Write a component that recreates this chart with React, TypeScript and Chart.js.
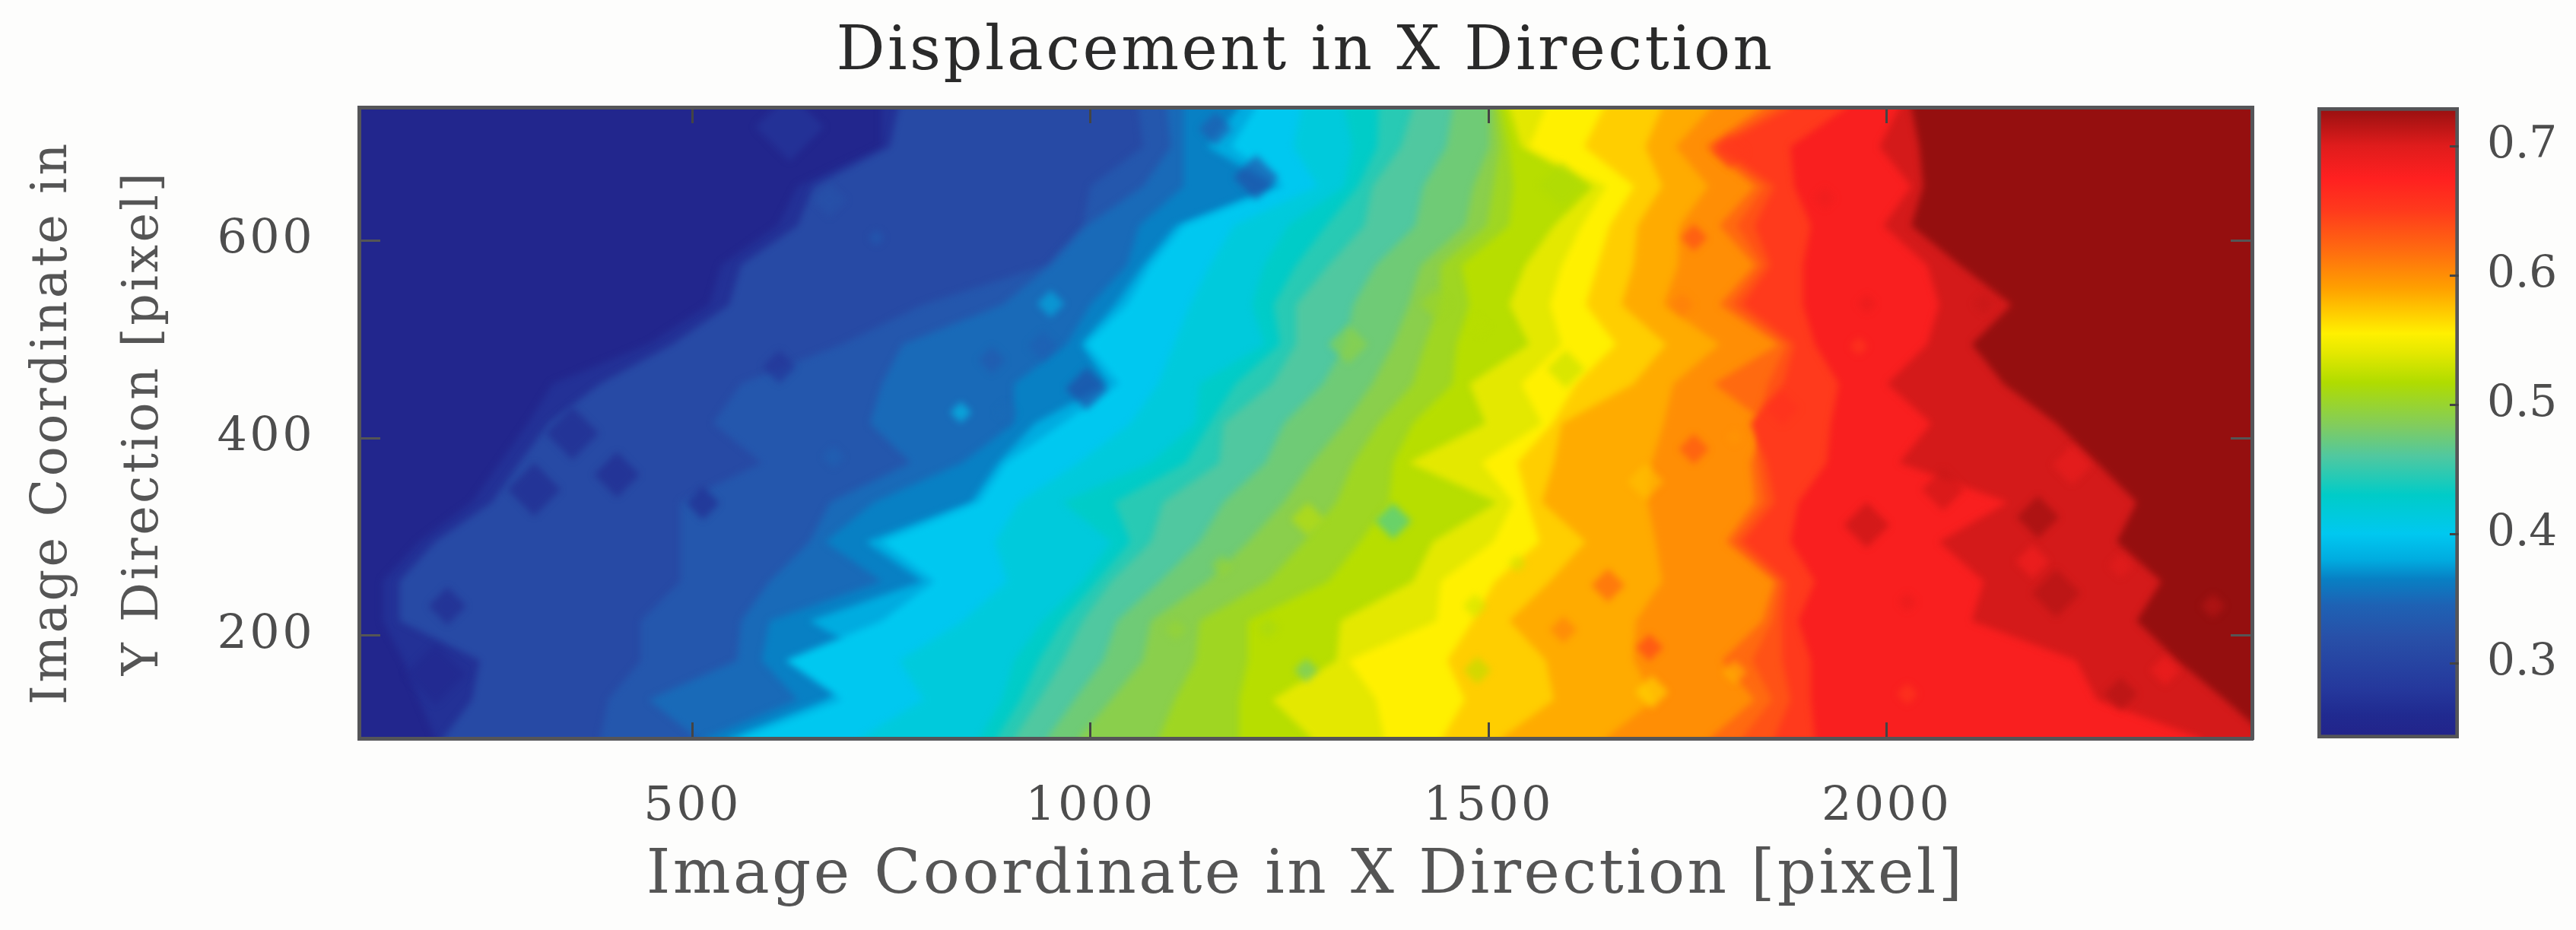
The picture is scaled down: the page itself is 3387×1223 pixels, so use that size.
import React, { useEffect, useRef } from "react";
import { Chart, registerables } from "chart.js";

Chart.register(...registerables);

const xRange = [81, 2459];
const yRange = [96, 735];
const colorRange = [0.2418, 0.73];
const xTicks = [500, 1000, 1500, 2000];
const yTicks = [200, 400, 600];
const colorTicks = [0.3, 0.4, 0.5, 0.6, 0.7];

const titleText = "Displacement in X Direction";
const xLabel = "Image Coordinate in X Direction [pixel]";
const yLabel = ["Image Coordinate in", "Y Direction [pixel]"];

// Colormap: value -> colour
const mapValues = [0.2418, 0.26, 0.28, 0.32, 0.345, 0.365, 0.38, 0.4, 0.43, 0.46, 0.483, 0.517, 0.54, 0.555, 0.59, 0.62, 0.65, 0.675, 0.7, 0.72, 0.73];
const mapColors = ["#23238a", "#202a90", "#25389c", "#2850a8", "#1e62b4", "#0880c4", "#00ace0", "#00c8f0", "#00ccc8", "#50c8a0", "#80cc60", "#b0dc00", "#e4e800", "#fff000", "#ffa000", "#ff6a10", "#ff3a1c", "#ff2020", "#e01c1c", "#ae1414", "#950f0f"];

// Rows of the contour grid (image Y coordinate)
const rowY = [735, 695, 655, 615, 575, 535, 495, 455, 415, 375, 335, 295, 255, 215, 175, 135, 96];

// X position, on each row, where the field passes each contour value
const contourValues = [0.25, 0.27, 0.31, 0.33, 0.35, 0.365, 0.38, 0.4, 0.415, 0.43, 0.445, 0.46, 0.475, 0.49, 0.505, 0.52, 0.54, 0.555, 0.57, 0.585, 0.6, 0.62, 0.635, 0.65, 0.68, 0.705, 0.73];
const c025 = [-200, -200, -200, -200, -200, -200, -200, -200, -200, -200, -200, -200, -200, -200, -200, -200, -200];
const c027 = [738, 738, 632, 607, 536, 521, 445, 324, 293, 258, 223, 157, 111, 111, 137, 157, 177];
const c031 = [759, 748, 652, 632, 561, 546, 475, 384, 319, 283, 248, 177, 132, 132, 233, 223, 187];
const c033 = [1060, 1066, 1000, 990, 945, 789, 688, 561, 526, 587, 485, 485, 485, 435, 435, 394, 384];
const c035 = [1096, 1101, 1066, 995, 950, 889, 764, 738, 723, 774, 673, 647, 597, 561, 556, 445, 506];
const c0365 = [1117, 1117, 1117, 1061, 1046, 1000, 970, 904, 904, 839, 728, 667, 738, 597, 587, 632, 516];
const c038 = [1187, 1147, 1233, 1107, 1066, 1031, 988, 1021, 930, 884, 850, 718, 789, 647, 733, 667, 546];
const c040 = [1208, 1177, 1243, 1117, 1076, 1046, 995, 1036, 965, 894, 860, 738, 804, 738, 617, 688, 561];
const c0415 = [1265, 1255, 1285, 1180, 1150, 1125, 1105, 1085, 1050, 985, 910, 880, 895, 840, 760, 790, 710];
const c043 = [1319, 1329, 1319, 1248, 1218, 1203, 1218, 1137, 1132, 1076, 965, 1026, 990, 940, 904, 889, 860];
const c0445 = [1362, 1360, 1336, 1296, 1258, 1230, 1238, 1182, 1150, 1120, 1030, 1050, 1008, 965, 935, 912, 882];
const c046 = [1405, 1390, 1354, 1344, 1299, 1258, 1258, 1228, 1167, 1162, 1091, 1076, 1026, 990, 965, 935, 904];
const c0475 = [1455, 1447, 1418, 1408, 1358, 1330, 1320, 1292, 1243, 1220, 1167, 1137, 1087, 1033, 1016, 980, 945];
const c049 = [1501, 1501, 1481, 1471, 1415, 1400, 1380, 1354, 1319, 1278, 1243, 1198, 1147, 1076, 1066, 1026, 985];
const c0505 = [1509, 1514, 1506, 1498, 1440, 1438, 1420, 1405, 1362, 1330, 1309, 1268, 1223, 1137, 1132, 1106, 1086];
const c052 = [1516, 1526, 1531, 1526, 1466, 1476, 1460, 1455, 1405, 1380, 1375, 1339, 1299, 1198, 1198, 1187, 1187];
const c054 = [1526, 1541, 1632, 1582, 1546, 1526, 1551, 1476, 1496, 1400, 1511, 1430, 1405, 1314, 1309, 1228, 1278];
const c0555 = [1572, 1551, 1648, 1617, 1592, 1577, 1592, 1541, 1567, 1491, 1531, 1506, 1440, 1435, 1324, 1359, 1369];
const c057 = [1645, 1620, 1683, 1652, 1637, 1622, 1660, 1610, 1580, 1536, 1549, 1564, 1508, 1480, 1448, 1470, 1442];
const c0585 = [1718, 1697, 1718, 1687, 1682, 1667, 1723, 1682, 1592, 1582, 1567, 1622, 1577, 1526, 1572, 1582, 1516];
const c060 = [1780, 1735, 1776, 1740, 1738, 1720, 1790, 1732, 1720, 1705, 1700, 1710, 1718, 1685, 1682, 1708, 1647];
const c062 = [1844, 1773, 1834, 1790, 1834, 1790, 1864, 1783, 1849, 1829, 1834, 1798, 1859, 1844, 1793, 1834, 1778];
const c0635 = [1862, 1780, 1846, 1812, 1844, 1805, 1874, 1851, 1839, 1839, 1846, 1808, 1866, 1856, 1831, 1856, 1818];
const c065 = [1879, 1788, 1859, 1834, 1854, 1819, 1884, 1870, 1829, 1849, 1859, 1819, 1874, 1869, 1869, 1879, 1859];
const c068 = [1950, 1879, 1884, 1905, 1895, 1895, 1910, 1940, 1930, 1925, 1889, 1879, 1910, 1889, 1905, 1905, 1910];
const c0705 = [2016, 1991, 2031, 1996, 2051, 2066, 2051, 2001, 2056, 2016, 2152, 2066, 2122, 2107, 2238, 2264, 2395];
const c073 = [2031, 2041, 2046, 2031, 2092, 2157, 2107, 2147, 2213, 2264, 2314, 2289, 2345, 2314, 2365, 2425, 2480];
const contourColumns = [c025, c027, c031, c033, c035, c0365, c038, c040, c0415, c043, c0445, c046, c0475, c049, c0505, c052, c054, c0555, c057, c0585, c060, c062, c0635, c065, c068, c0705, c073];

// Small closed contours (spots): position, value
const spotX = [349, 405, 301, 513, 192, 177, 609, 622, 837, 677, 731, 672, 1157, 1208, 950, 940, 876, 995, 894, 1324, 1433, 1488, 1592, 1597, 1273, 1380, 1165, 1271, 1486, 1483, 1536, 1107, 1223, 1650, 1594, 1803, 1758, 1743, 1869, 1758, 1702, 1705, 1809, 1809, 1697, 2026, 1922, 1975, 1965, 1975, 2071, 2190, 2233, 2183, 2213, 2294, 2026, 2294, 2410, 2122, 2350];
const spotY = [405, 363, 348, 334, 230, 161, 472, 715, 426, 381, 603, 641, 713, 664, 536, 493, 479, 450, 426, 495, 536, 513, 656, 470, 318, 316, 271, 165, 165, 230, 273, 206, 208, 251, 206, 690, 603, 535, 430, 389, 188, 143, 163, 401, 356, 141, 643, 536, 493, 312, 348, 320, 373, 275, 243, 141, 234, 271, 230, 536, 165];
const spotV = [0.25, 0.25, 0.25, 0.25, 0.25, 0.25, 0.27, 0.28, 0.4, 0.345, 0.34, 0.325, 0.33, 0.31, 0.385, 0.34, 0.33, 0.3, 0.35, 0.495, 0.505, 0.52, 0.515, 0.525, 0.525, 0.45, 0.5, 0.47, 0.52, 0.53, 0.53, 0.5, 0.51, 0.63, 0.61, 0.65, 0.645, 0.61, 0.66, 0.64, 0.65, 0.565, 0.58, 0.595, 0.575, 0.65, 0.69, 0.695, 0.65, 0.715, 0.71, 0.73, 0.69, 0.68, 0.72, 0.72, 0.695, 0.695, 0.715, 0.71, 0.685];
const spotR = [35, 30, 35, 22, 25, 40, 22, 45, 14, 14, 10, 22, 22, 30, 18, 20, 18, 28, 14, 26, 20, 14, 30, 25, 22, 24, 14, 16, 18, 16, 12, 14, 14, 22, 18, 22, 18, 16, 22, 20, 18, 22, 16, 10, 24, 14, 14, 12, 12, 30, 28, 28, 26, 22, 32, 22, 12, 16, 16, 14, 20];

const hex = (h: string) => [1, 3, 5].map((i) => parseInt(h.slice(i, i + 2), 16));
function colorFor(v: number, alpha = 1) {
  let i = 0;
  while (i < mapValues.length - 2 && v > mapValues[i + 1]) i++;
  const t = Math.min(1, Math.max(0, (v - mapValues[i]) / (mapValues[i + 1] - mapValues[i])));
  const a = hex(mapColors[i]);
  const b = hex(mapColors[i + 1]);
  return `rgba(${a.map((c, k) => Math.round(c + (b[k] - c) * t)).join(",")},${alpha})`;
}

const SERIF = '"DejaVu Serif", serif';
const EDGE = "#555558";
const TICK_TEXT = "#4d4d4d";
const BG = "#fdfdfc";
const FILL_BEYOND = 3000;
const ROW_BEYOND = 60;

const softBands = {
  id: "softBands",
  beforeDraw(chart: any) {
    chart.ctx.letterSpacing = "3.4px";
  },
  beforeDatasetsDraw(chart: any) {
    chart.ctx.filter = "blur(5px)";
  },
  afterDatasetsDraw(chart: any) {
    chart.ctx.filter = "none";
  },
};

const explicitTicks = (values: number[]) => (s: any) => {
  s.ticks = values.map((value) => ({ value }));
};

export default function App() {
  const mainRef = useRef<HTMLCanvasElement>(null);
  const barRef = useRef<HTMLCanvasElement>(null);

  useEffect(() => {
    const contourSets: any[] = contourColumns.map((col, i) => ({
      label: `level ${contourValues[i]}`,
      // the first and last rows run on past the frame so that the soft band edges stay inside the clip
      data: [
        { x: col[0], y: yRange[1] + ROW_BEYOND },
        ...col.map((x, r) => ({ x, y: rowY[r] })),
        { x: col[col.length - 1], y: yRange[0] - ROW_BEYOND },
      ],
      backgroundColor: colorFor(contourValues[i]),
      borderWidth: 0,
      pointRadius: 0,
      tension: 0,
      fill: { value: FILL_BEYOND },
      order: contourColumns.length + 1 - i,
    }));
    const spotSet: any = {
      label: "spots",
      data: spotX.map((x, i) => ({ x, y: spotY[i] })),
      showLine: false,
      fill: false,
      pointStyle: "rectRot",
      pointRadius: spotR,
      pointBorderWidth: 0,
      pointBackgroundColor: spotV.map((v) => colorFor(v, 0.6)),
      order: 0,
    };
    const sideAxis = {
      ticks: { display: false },
      border: { color: EDGE, width: 5, z: 2 },
      grid: { drawOnChartArea: false, color: "#555", lineWidth: 3, z: 1 },
    };
    const main = new Chart(mainRef.current!, {
      type: "line",
      data: { datasets: [...contourSets, spotSet] },
      plugins: [softBands],
      options: {
        animation: false,
        responsive: false,
        indexAxis: "y",
        layout: { padding: { left: 0, right: 426, top: 0, bottom: 0 } },
        plugins: {
          legend: { display: false },
          tooltip: { enabled: false },
          title: {
            display: true,
            text: titleText,
            fullSize: false,
            color: "#2a2a2a",
            font: { family: SERIF, size: 80, weight: "normal", lineHeight: 1.2 },
            padding: { top: 22, bottom: 23 },
          },
        },
        scales: {
          x: {
            type: "linear",
            position: "bottom",
            min: xRange[0],
            max: xRange[1],
            afterFit: (s: any) => { s.height = 252; },
            afterBuildTicks: explicitTicks(xTicks),
            ticks: {
              color: TICK_TEXT,
              maxRotation: 0,
              autoSkip: false,
              padding: 75,
              font: { family: SERIF, size: 62 },
              callback: (v: any) => String(v),
            },
            border: { color: EDGE, width: 5, z: 2 },
            grid: { drawOnChartArea: false, color: "#444", lineWidth: 3, tickLength: -21, z: 1 },
            title: {
              display: true,
              text: xLabel,
              color: "#555",
              font: { family: SERIF, size: 80, lineHeight: 1.2 },
              padding: { top: 0, bottom: 22 },
            },
          },
          y: {
            type: "linear",
            position: "left",
            min: yRange[0],
            max: yRange[1],
            afterFit: (s: any) => { s.width = 472; },
            afterBuildTicks: explicitTicks(yTicks),
            ticks: {
              color: TICK_TEXT,
              autoSkip: false,
              padding: 86,
              font: { family: SERIF, size: 62 },
            },
            border: { color: EDGE, width: 5, z: 2 },
            grid: { drawOnChartArea: false, color: "#555", lineWidth: 3, tickLength: -28, z: 1 },
            title: {
              display: true,
              text: yLabel,
              color: "#555",
              font: { family: SERIF, size: 65, lineHeight: 120 / 65 },
              padding: { top: 10, bottom: 0 },
            },
          },
          xTop: {
            type: "linear",
            axis: "x",
            position: "top",
            min: xRange[0],
            max: xRange[1],
            afterFit: (s: any) => { s.height = 0; },
            afterBuildTicks: explicitTicks(xTicks),
            ...sideAxis,
            grid: { ...sideAxis.grid, color: "#444", tickLength: -21 },
          },
          yRight: {
            type: "linear",
            axis: "y",
            position: "right",
            min: yRange[0],
            max: yRange[1],
            afterFit: (s: any) => { s.width = 0; },
            afterBuildTicks: explicitTicks(yTicks),
            ...sideAxis,
            grid: { ...sideAxis.grid, tickLength: -28 },
          },
        },
      } as any,
    });

    const bar = new Chart(barRef.current!, {
      type: "bar",
      data: {
        labels: ["colour"],
        datasets: [
          {
            data: [[colorRange[0], colorRange[1]]],
            barPercentage: 1,
            categoryPercentage: 1,
            borderColor: EDGE,
            borderWidth: 5,
            borderSkipped: false,
            backgroundColor: (ctx: any) => {
              const { chart } = ctx;
              const area = chart.chartArea;
              if (!area) return mapColors[0];
              const g = chart.ctx.createLinearGradient(0, area.bottom, 0, area.top);
              mapValues.forEach((v, i) => {
                g.addColorStop((v - colorRange[0]) / (colorRange[1] - colorRange[0]), mapColors[i]);
              });
              return g;
            },
          },
        ] as any,
      },
      options: {
        animation: false,
        responsive: false,
        layout: { padding: { left: 47, right: 0, top: 141, bottom: 252 } },
        plugins: { legend: { display: false }, tooltip: { enabled: false } },
        scales: {
          x: { display: false },
          y: {
            position: "right",
            min: colorRange[0],
            max: colorRange[1],
            afterFit: (s: any) => { s.width = 154; },
            afterBuildTicks: explicitTicks(colorTicks),
            ticks: {
              color: TICK_TEXT,
              autoSkip: false,
              padding: 49,
              font: { family: SERIF, size: 58 },
              callback: (v: any) => Number(v).toFixed(1),
            },
            border: { display: false },
            grid: { drawOnChartArea: false, color: "#444", lineWidth: 3, tickLength: -12, z: 1 },
          },
        },
      } as any,
    });

    return () => {
      main.destroy();
      bar.destroy();
    };
  }, []);

  return (
    <div style={{ position: "fixed", left: 0, top: 0, width: 3387, height: 1223, background: BG, overflow: "hidden" }}>
      <canvas ref={mainRef} width={3387} height={1223} style={{ position: "absolute", left: 0, top: 0 }} />
      <canvas ref={barRef} width={387} height={1223} style={{ position: "absolute", left: 3000, top: 0 }} />
    </div>
  );
}
